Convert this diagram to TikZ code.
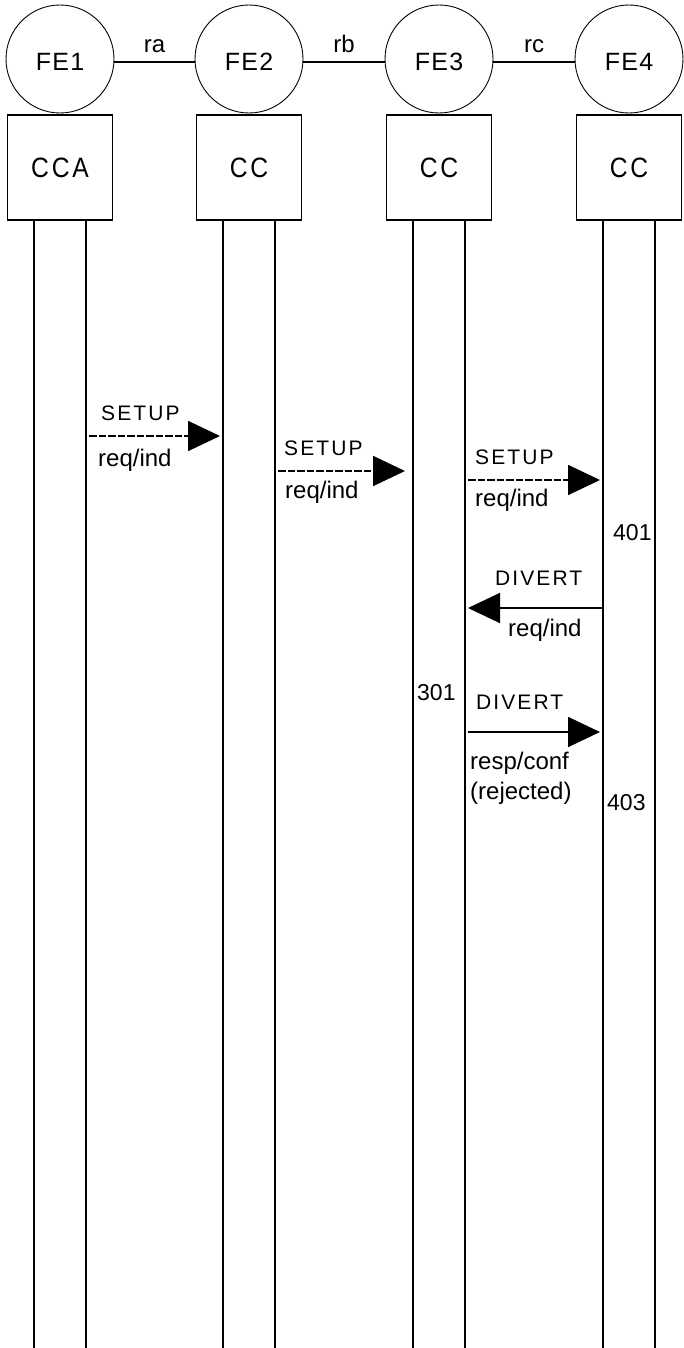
\documentclass[tikz,border=0pt]{standalone}
\usepackage{fontspec}
\setmainfont{Liberation Sans}
\newfontfamily\fefont[LetterSpace=5]{Liberation Sans}
\newfontfamily\ccfont[LetterSpace=10,FakeStretch=0.88]{Liberation Sans}
\newfontfamily\msgfont[LetterSpace=10]{Liberation Sans}
\usetikzlibrary{arrows.meta,calc,positioning}

\begin{document}
\begin{tikzpicture}[
  x=1pt, y=-1pt,
  line cap=butt,
  fe/.style={draw, circle, line width=0.9pt, minimum size=108pt, inner sep=0pt,
    text height=24pt, font=\fefont\fontsize{25}{28}\selectfont},
  ccbox/.style={draw, rectangle, line width=1.2pt, minimum size=105pt, inner sep=0pt,
    font=\ccfont\fontsize{28}{32}\selectfont},
  life/.style={line width=2pt},
  iface/.style={line width=1.8pt},
  msg/.style={line width=1.8pt, shorten <=3pt, shorten >=3pt,
    -{Triangle[length=32pt,width=30pt]}},
  req/.style={msg, dash pattern=on 7.5pt off 2pt},
  prim/.style={anchor=west, inner sep=0pt, font=\msgfont\fontsize{21}{24}\selectfont},
  kind/.style={anchor=west, inner sep=0pt, font=\fontsize{24}{27}\selectfont},
  refno/.style={anchor=west, inner sep=0pt, font=\fontsize{23}{26}\selectfont}
]
\useasboundingbox (0,0) rectangle (683,1348);

% functional entities and their call control boxes
\node[fe] (fe1) at (60,59) {FE1};
\node[fe] (fe2) at (249,59) {FE2};
\node[fe] (fe3) at (439,59) {FE3};
\node[fe] (fe4) at (629,59) {FE4};
\node[ccbox, below=1pt of fe1] (cc1) {CCA};
\node[ccbox, below=1pt of fe2] (cc2) {CC};
\node[ccbox, below=1pt of fe3] (cc3) {CC};
\node[ccbox, below=1pt of fe4] (cc4) {CC};

% relationships
\draw[iface] (fe1.east |- 0,62) -- node[kind, anchor=south, yshift=8pt] (ra) {ra} (fe2.west |- 0,62);
\draw[iface] (fe2.east |- 0,62) -- node[kind, anchor=south, yshift=8pt] (rb) {rb} (fe3.west |- 0,62);
\draw[iface] (fe3.east |- 0,62) -- node[kind, anchor=south, yshift=8pt] (rc) {rc} (fe4.west |- 0,62);

% life lines
\coordinate (bottom) at (0,1348);
\foreach \i in {1,...,4}{
  \coordinate (l\i) at ([xshift=-26pt]cc\i.south);
  \coordinate (r\i) at ([xshift=26pt]cc\i.south);
  \draw[life] (l\i) -- (l\i |- bottom);
  \draw[life] (r\i) -- (r\i |- bottom);
}

% message rows
\coordinate (m1) at (0,436);
\coordinate (m2) at (0,471);
\coordinate (m3) at (0,480);
\coordinate (m4) at (0,608);
\coordinate (m5) at (0,732);

% SETUP FE1 -> FE2
\draw[req] (r1 |- m1) -- (l2 |- m1);
\node[prim] (s1) at (101,413) {SETUP};
\node[kind] (s1k) at (98,460) {req/ind};

% SETUP FE2 -> FE3
\draw[req] (r2 |- m2) -- ([xshift=-5pt]l3 |- m2);
\node[prim] (s2) at (284,448) {SETUP};
\node[kind] (s2k) at (285,492) {req/ind};

% SETUP FE3 -> FE4
\draw[req] (r3 |- m3) -- (l4 |- m3);
\node[prim] (s3) at (475,457) {SETUP};
\node[kind] (s3k) at (475,500) {req/ind};
\node[refno] (n401) at (613,533) {401};

% DIVERT FE4 -> FE3
\draw[msg, shorten <=0pt] (l4 |- m4) -- (r3 |- m4);
\node[prim] (d1) at (495,578) {DIVERT};
\node[kind] (d1k) at (508,630) {req/ind};

% DIVERT FE3 -> FE4
\node[refno] (n301) at (417,693) {301};
\draw[msg] (r3 |- m5) -- (l4 |- m5);
\node[prim] (d2) at (476,702) {DIVERT};
\node[kind] (d2k) at (470,763) {resp/conf};
\node[kind] (d2r) at (470,793) {(rejected)};
\node[refno] (n403) at (607,803) {403};
\end{tikzpicture}
\end{document}
